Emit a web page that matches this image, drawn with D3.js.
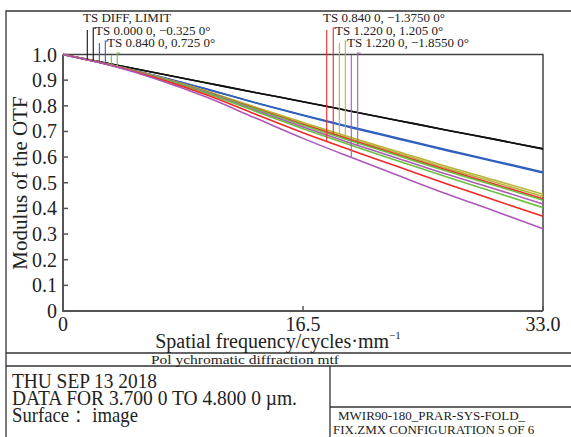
<!DOCTYPE html>
<html>
<head>
<meta charset="utf-8">
<script src="https://cdn.jsdelivr.net/npm/d3@7"></script>
<style>
  body { margin: 0; background: #fff; }
  svg { display: block; font-family: "Liberation Serif", "Times New Roman", serif; }
</style>
</head>
<body>
<svg id="mtf" width="571" height="437"></svg>
<script>
// spatial frequency samples (cycles/mm)
var freqs = [0, 3.3, 6.6, 9.9, 13.2, 16.5, 19.8, 23.1, 26.4, 29.7, 33];

// MTF values, tangential / sagittal per field
var diffT   = [1.000, 0.963, 0.926, 0.889, 0.852, 0.816, 0.779, 0.742, 0.705, 0.669, 0.632];
var diffS   = [1.000, 0.963, 0.926, 0.889, 0.852, 0.816, 0.779, 0.742, 0.705, 0.669, 0.632];
var f1T     = [1.000, 0.959, 0.914, 0.865, 0.813, 0.764, 0.718, 0.673, 0.629, 0.585, 0.542];
var f1S     = [1.000, 0.959, 0.914, 0.864, 0.812, 0.762, 0.715, 0.670, 0.625, 0.582, 0.538];
var f2T     = [1.000, 0.958, 0.908, 0.848, 0.779, 0.711, 0.646, 0.584, 0.522, 0.463, 0.403];
var f2S     = [1.000, 0.959, 0.910, 0.853, 0.788, 0.724, 0.663, 0.604, 0.545, 0.489, 0.432];
var f3T     = [1.000, 0.958, 0.905, 0.842, 0.768, 0.695, 0.627, 0.561, 0.495, 0.432, 0.369];
var f3S     = [1.000, 0.959, 0.910, 0.854, 0.790, 0.727, 0.667, 0.608, 0.550, 0.494, 0.438];
var f4T     = [1.000, 0.960, 0.912, 0.857, 0.795, 0.735, 0.676, 0.620, 0.563, 0.510, 0.455];
var f4S     = [1.000, 0.959, 0.911, 0.856, 0.792, 0.730, 0.671, 0.614, 0.556, 0.502, 0.446];
var f5T     = [1.000, 0.957, 0.901, 0.833, 0.753, 0.673, 0.599, 0.527, 0.456, 0.389, 0.321];
var f5S     = [1.000, 0.959, 0.909, 0.850, 0.783, 0.717, 0.654, 0.594, 0.533, 0.476, 0.417];

var fieldLabels = ["TS DIFF, LIMIT", "TS 0.000 0, \u22120.325 0\u00b0", "TS 0.840 0, 0.725 0\u00b0",
                   "TS 0.840 0, \u22121.3750 0\u00b0", "TS 1.220 0, 1.205 0\u00b0", "TS 1.220 0, \u22121.8550 0\u00b0"];
var fieldColors = ["#111111", "#3060bd", "#6cc040", "#f02828", "#b8b43c", "#ac58b8"];
// frequency where each label's T and S marker drops to its curve
var markerT = [1.67, 2.50, 3.32, 18.13, 19.00, 19.82];
var markerS = [2.08, 2.91, 3.73, 18.58, 19.41, 20.26];

var yTicks = [0, 0.1, 0.2, 0.3, 0.4, 0.5, 0.6, 0.7, 0.8, 0.9, 1.0];
var xTicks = [0, 16.5, 33];

var series = [
  {field: 0, vals: diffT}, {field: 0, vals: diffS},
  {field: 1, vals: f1T}, {field: 1, vals: f1S},
  {field: 4, vals: f4T}, {field: 4, vals: f4S},
  {field: 3, vals: f3S}, {field: 2, vals: f2S},
  {field: 5, vals: f5S}, {field: 2, vals: f2T},
  {field: 3, vals: f3T}, {field: 5, vals: f5T}
];
var tSeries = [diffT, f1T, f2T, f3T, f4T, f5T];
var sSeries = [diffS, f1S, f2S, f3S, f4S, f5S];

var svg = d3.select("#mtf"),
    plotL = 63, plotR = 543, plotT = 54.5, plotB = 311;

var x = d3.scaleLinear().domain([0, 33]).range([plotL, plotR]),
    y = d3.scaleLinear().domain([0, 1]).range([plotB, plotT]);

var ink = "#333";

// outer frame and title block
var frame = svg.append("g").attr("stroke", ink).attr("stroke-width", 1.3).attr("fill", "none");
frame.append("path").attr("d", "M6,437V11H571");
frame.append("path").attr("d", "M6,353H571M6,366H571M330,366V437M330,407H571");

// plot box
var box = svg.append("g").attr("fill", "none");
box.append("path").attr("d", "M" + plotL + "," + plotT + "H" + plotR + "V" + plotB)
  .attr("stroke", "#444").attr("stroke-width", 1.5);
box.append("path").attr("d", "M" + plotL + "," + plotT + "V" + plotB + "H" + plotR)
  .attr("stroke", "#555").attr("stroke-width", 2);

// ticks
svg.append("g").selectAll("line").data(yTicks).enter().append("line")
  .attr("x1", plotL).attr("x2", plotL + 5)
  .attr("y1", function(d) { return y(d); }).attr("y2", function(d) { return y(d); })
  .attr("stroke", "#555").attr("stroke-width", 1.5);
svg.append("g").selectAll("line").data(xTicks.slice(1)).enter().append("line")
  .attr("x1", function(d) { return x(d); }).attr("x2", function(d) { return x(d); })
  .attr("y1", plotB).attr("y2", plotB - 5)
  .attr("stroke", "#555").attr("stroke-width", 1.5);

// tick labels
svg.append("g").selectAll("text").data(yTicks).enter().append("text")
  .attr("x", 57).attr("y", function(d) { return y(d) + 7; })
  .attr("text-anchor", "end").attr("font-size", 20).attr("fill", "#222")
  .text(function(d) { return d === 0 ? "0" : d.toFixed(1); });
svg.append("g").selectAll("text").data(xTicks).enter().append("text")
  .attr("x", function(d) { return x(d); }).attr("y", 331)
  .attr("text-anchor", "middle").attr("font-size", 20).attr("fill", "#222")
  .text(function(d) { return d === 0 ? "0" : d.toFixed(1); });

// axis titles
var xt = svg.append("text").attr("x", 278).attr("y", 348).attr("text-anchor", "middle")
  .attr("font-size", 20).attr("fill", "#222");
xt.append("tspan").text("Spatial frequency/cycles\u00b7mm");
xt.append("tspan").attr("font-size", 11).attr("dy", -9).text("\u22121");
svg.append("text").attr("transform", "translate(27,183) rotate(-90)")
  .attr("text-anchor", "middle").attr("font-size", 21).attr("fill", "#222")
  .text("Modulus of the OTF");

// curves
var line = d3.line()
  .x(function(d, i) { return x(freqs[i]); })
  .y(function(d) { return y(d); })
  .curve(d3.curveMonotoneX);

svg.append("g").selectAll("path").data(series).enter().append("path")
  .attr("d", function(d) { return line(d.vals); })
  .attr("fill", "none")
  .attr("stroke", function(d) { return fieldColors[d.field]; })
  .attr("stroke-width", 1.6);

// value of a series at arbitrary frequency, for marker ends
function valueAt(vals, f) {
  var i = d3.bisectRight(freqs, f) - 1;
  i = Math.max(0, Math.min(freqs.length - 2, i));
  var t = (f - freqs[i]) / (freqs[i + 1] - freqs[i]);
  return vals[i] + t * (vals[i + 1] - vals[i]);
}

// legend labels with T/S drop markers
var labelX = [83, 95, 107, 323, 335, 347],
    labelY = [22, 35, 47, 22, 35, 47];

var legend = svg.append("g");
fieldLabels.forEach(function(lbl, k) {
  legend.append("text").attr("x", labelX[k]).attr("y", labelY[k])
    .attr("font-size", 13).attr("fill", "#222").text(lbl);
  var yTop = labelY[k] + 6;
  [[markerT[k], tSeries[k]], [markerS[k], sSeries[k]]].forEach(function(m, j) {
    var mx = x(m[0]);
    legend.append("path")
      .attr("d", "M" + mx + "," + y(valueAt(m[1], m[0])) + "V" + (yTop + (j === 0 ? 2 : 0)) + (j === 1 ? "h3" : ""))
      .attr("fill", "none").attr("stroke", fieldColors[k]).attr("stroke-width", 1.1);
  });
});

// title block text
svg.append("text").attr("x", 245).attr("y", 364).attr("text-anchor", "middle")
  .attr("font-size", 13).attr("fill", "#222")
  .attr("textLength", 188).attr("lengthAdjust", "spacingAndGlyphs")
  .text("Pol ychromatic diffraction mtf");

var info = ["THU SEP 13 2018", "DATA FOR 3.700 0 TO 4.800 0 \u00b5m.", "Surface\uff1a image"];
var infoWidth = [145, 285, 126];
svg.append("g").selectAll("text").data(info).enter().append("text")
  .attr("x", 12).attr("y", function(d, i) { return 388 + i * 17; })
  .attr("font-size", 22).attr("fill", "#222")
  .attr("textLength", function(d, i) { return infoWidth[i]; })
  .attr("lengthAdjust", "spacingAndGlyphs")
  .text(function(d) { return d; });

var file = ["MWIR90-180_PRAR-SYS-FOLD_", "FIX.ZMX CONFIGURATION 5 OF 6"];
svg.append("g").selectAll("text").data(file).enter().append("text")
  .attr("x", function(d, i) { return i === 0 ? 338 : 333; })
  .attr("y", function(d, i) { return 420 + i * 14; })
  .attr("font-size", 13).attr("fill", "#222").text(function(d) { return d; });
</script>
</body>
</html>
